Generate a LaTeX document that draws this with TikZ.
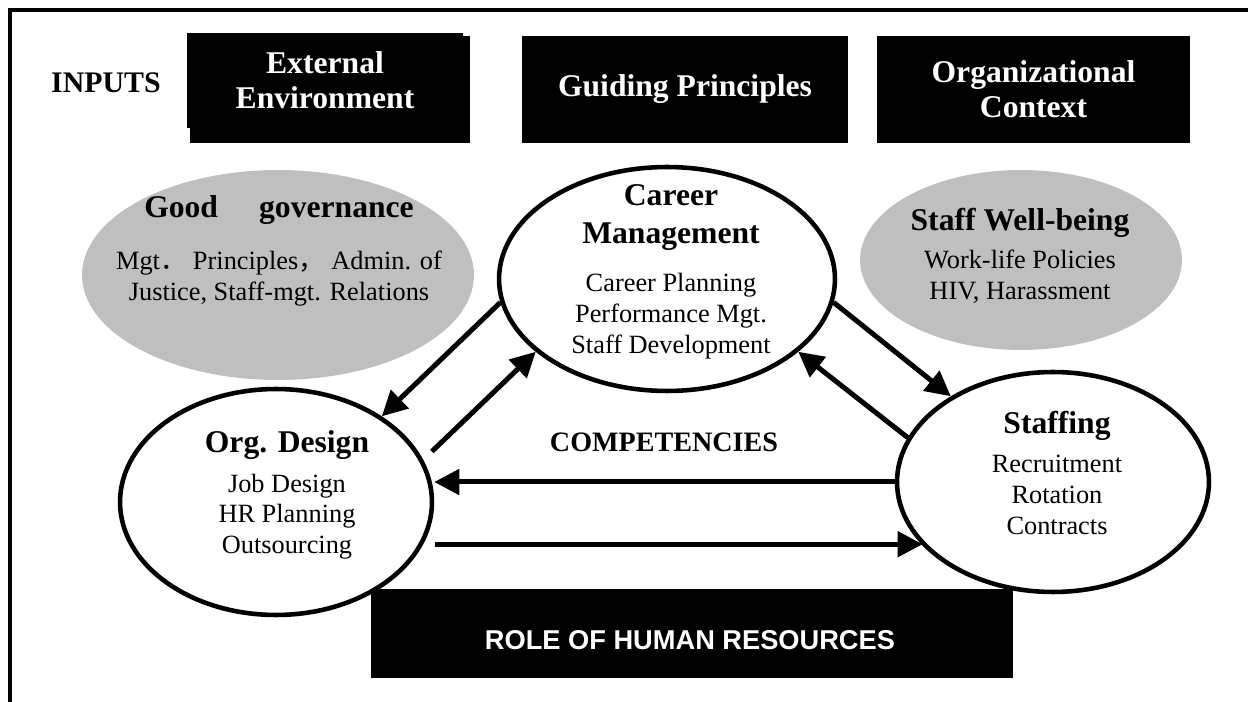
\documentclass[tikz,border=0pt]{standalone}
\usepackage{fontspec}
\setmainfont{Liberation Serif}
\newfontfamily\arialfont{Liberation Sans}
\newfontfamily\cjkfont{Noto Sans CJK SC}
\usepackage{tikz}
\usetikzlibrary{arrows.meta,shapes.geometric}

\newcommand{\ovalhead}{\fontsize{18}{17.6}\selectfont\bfseries}

\begin{document}
\begin{tikzpicture}[
  x=0.02cm, y=-0.02cm,
  topbox/.style={fill=black, text=white, align=center, inner sep=0pt, font=\fontsize{18}{20}\selectfont\bfseries},
  oval/.style={ellipse, draw, line width=2.6pt, fill=white, inner sep=0pt},
  greyoval/.style={ellipse, fill=black!25, inner sep=0pt},
  ovaltext/.style={align=flush center, text width=7cm, inner sep=0pt, font=\fontsize{15}{17.6}\selectfont},
  arrow/.style={-{Triangle[length=0.5cm,width=0.5cm]}, line width=0.1cm}
]
  \useasboundingbox (0,0) rectangle (1248,702);
  % frame, top and left side only
  \draw[line width=2.3pt] (10,702) -- (10,10) -- (1248,10);

  % Inputs row
  \node[font=\fontsize{17}{20}\selectfont\bfseries] (inputs) at (106,83) {INPUTS};
  \fill (190,36) rectangle (470,143);
  \node[topbox, minimum width=5.52cm, minimum height=1.9cm] (extenv) at (325,80.5) {External\\Environment};
  \node[topbox, minimum width=6.52cm, minimum height=2.14cm] (guiding) at (685,89.5) {Guiding Principles};
  \node[topbox, minimum width=6.26cm, minimum height=2.14cm] (orgctx) at (1033.5,89.5) {Organizational\\Context};

  % Role box at the bottom
  \node[fill=black, minimum width=12.84cm, minimum height=1.78cm] (role) at (692,633.5) {};
  \node[text=white, font=\arialfont\fontsize{15.5}{18}\selectfont\bfseries] (roletxt) at (690,640) {ROLE OF HUMAN RESOURCES};

  % Grey side ovals
  \node[greyoval, minimum width=7.84cm, minimum height=4.2cm] (gov) at (278,275) {};
  \node[ovaltext, text width=7.6cm] (govtxt) at (279,251) {{\ovalhead Good\hspace{1.3em}governance}\\[12pt]Mgt{\cjkfont ．}\ Principles{\cjkfont ，}\ Admin. of\\Justice, Staff-mgt. Relations};
  \node[greyoval, minimum width=6.44cm, minimum height=3.6cm] (well) at (1021,260) {};
  \node[ovaltext] (welltxt) at (1020,256) {{\ovalhead Staff Well-being}\\[4pt]Work-life Policies\\HIV, Harassment};

  % Main ovals
  \node[oval, minimum width=6.72cm, minimum height=4.48cm] (career) at (667,279) {};
  \node[ovaltext] (careertxt) at (671,272) {{\ovalhead Career}\\[4pt]{\ovalhead Management}\\[9.6pt]Career Planning\\Performance Mgt.\\Staff Development};
  \node[oval, minimum width=6.24cm, minimum height=4.52cm] (org) at (276,502) {};
  \node[ovaltext] (orgtxt) at (287,495) {{\ovalhead Org. Design}\\[5pt]Job Design\\HR Planning\\Outsourcing};
  \node[oval, minimum width=6.24cm, minimum height=4.4cm] (staffing) at (1053,482) {};
  \node[ovaltext] (stafftxt) at (1057,473) {{\ovalhead Staffing}\\[5pt]Recruitment\\Rotation\\Contracts};

  \node[font=\fontsize{16}{18}\selectfont\bfseries] (comp) at (664,442) {COMPETENCIES};

  % Arrows between the ovals
  \draw[arrow] (career.188) -- (org.39);
  \draw[arrow, shorten <=0.24cm] (org.16) -- (career.209);
  \draw[arrow] (career.352) -- (staffing.140);
  \draw[arrow] (staffing.163) -- (career.331);
  \draw[arrow] (staffing.west) -- (staffing.west -| org.east);
  \draw[arrow, shorten <=0.24cm] (org.344) -- (org.344 -| staffing.206);
\end{tikzpicture}
\end{document}
